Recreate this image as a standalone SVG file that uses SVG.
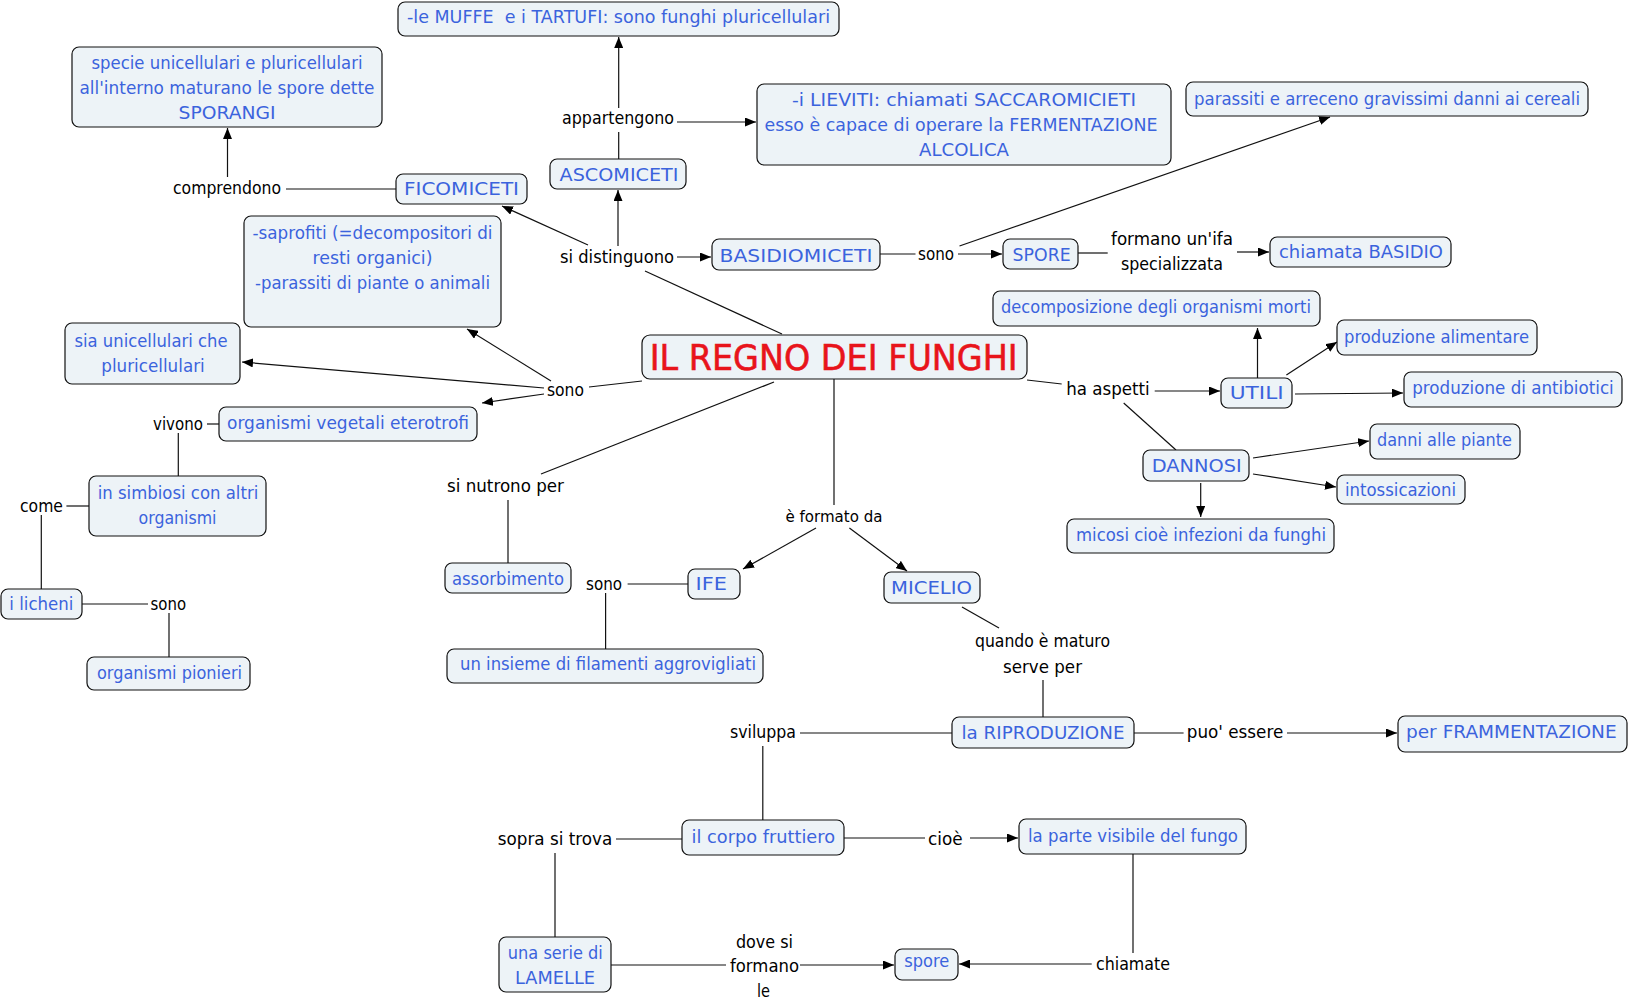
<svg xmlns="http://www.w3.org/2000/svg" width="1630" height="1000" viewBox="0 0 1630 1000">
<style>
.bg{fill:#ffffff}
.box{fill:#EDF3F7;stroke:#111;stroke-width:1.2}
.t{font-family:"DejaVu Sans","Liberation Sans",sans-serif;font-size:17px;fill:#3B63DD;text-anchor:middle}
.l{font-family:"DejaVu Sans","Liberation Sans",sans-serif;font-size:17px;fill:#000;text-anchor:middle}
.title{font-family:"DejaVu Sans","Liberation Sans",sans-serif;font-size:35px;fill:#E8141B;stroke:#E8141B;stroke-width:0.6;text-anchor:middle}
.c line{stroke:#111;stroke-width:1.2;fill:none}
.a{marker-end:url(#arr)}
</style>
<defs>
<marker id="arr" markerUnits="userSpaceOnUse" markerWidth="11" markerHeight="9" refX="11" refY="4.5" orient="auto">
<path d="M0,0 L11,4.5 L0,9 z" fill="#000"/>
</marker>
</defs>
<rect class="bg" x="0" y="0" width="1630" height="1000"/>
<g id="connectors" class="c">
<line x1="227.5" y1="177" x2="227.5" y2="128" class="a"/>
<line x1="286" y1="189" x2="396" y2="189"/>
<line x1="618.7" y1="108" x2="618.7" y2="37" class="a"/>
<line x1="677" y1="122" x2="756" y2="122" class="a"/>
<line x1="618.7" y1="159" x2="618.7" y2="132"/>
<line x1="618" y1="246" x2="618" y2="190" class="a"/>
<line x1="588" y1="245" x2="502" y2="206" class="a"/>
<line x1="677" y1="257" x2="711" y2="257" class="a"/>
<line x1="645" y1="271" x2="782" y2="334"/>
<line x1="880" y1="254" x2="915.5" y2="254"/>
<line x1="958" y1="254" x2="1002" y2="254" class="a"/>
<line x1="959.5" y1="246" x2="1330" y2="117" class="a"/>
<line x1="1078" y1="253" x2="1107.7" y2="253"/>
<line x1="1237" y1="252" x2="1269" y2="252" class="a"/>
<line x1="642" y1="381" x2="589" y2="387"/>
<line x1="551" y1="381" x2="467" y2="329" class="a"/>
<line x1="544" y1="388" x2="242" y2="362" class="a"/>
<line x1="544" y1="394" x2="482" y2="403" class="a"/>
<line x1="207" y1="424" x2="219" y2="424"/>
<line x1="178.3" y1="433" x2="178.3" y2="476"/>
<line x1="66.4" y1="506" x2="89" y2="506"/>
<line x1="41.3" y1="515" x2="41.3" y2="589"/>
<line x1="82" y1="604" x2="148" y2="604"/>
<line x1="169" y1="613" x2="169" y2="657"/>
<line x1="774" y1="382" x2="541" y2="474"/>
<line x1="508" y1="500" x2="508" y2="563"/>
<line x1="627.6" y1="584" x2="688" y2="584"/>
<line x1="605.6" y1="593" x2="605.6" y2="649"/>
<line x1="816" y1="528" x2="743" y2="569" class="a"/>
<line x1="834" y1="379" x2="834" y2="505"/>
<line x1="849.4" y1="528" x2="907" y2="571" class="a"/>
<line x1="962" y1="607" x2="999" y2="628"/>
<line x1="1027" y1="380" x2="1061.7" y2="384"/>
<line x1="1154.7" y1="391" x2="1220" y2="391" class="a"/>
<line x1="1123.7" y1="403" x2="1176" y2="450"/>
<line x1="1257.5" y1="378" x2="1257.5" y2="328" class="a"/>
<line x1="1286.4" y1="375" x2="1337" y2="342" class="a"/>
<line x1="1295" y1="394" x2="1403" y2="393" class="a"/>
<line x1="1253" y1="458" x2="1369" y2="441" class="a"/>
<line x1="1253" y1="474" x2="1336" y2="487" class="a"/>
<line x1="1200.7" y1="483" x2="1200.7" y2="517" class="a"/>
<line x1="1043" y1="680" x2="1043" y2="717"/>
<line x1="800" y1="733" x2="952" y2="733"/>
<line x1="1134" y1="733" x2="1183.6" y2="733"/>
<line x1="1287" y1="733" x2="1397" y2="733" class="a"/>
<line x1="762.8" y1="746" x2="762.8" y2="820"/>
<line x1="616" y1="839" x2="682" y2="839"/>
<line x1="844" y1="838" x2="925" y2="838"/>
<line x1="970" y1="838" x2="1018" y2="838" class="a"/>
<line x1="555" y1="853" x2="555" y2="937"/>
<line x1="611" y1="965" x2="726" y2="965"/>
<line x1="800" y1="965" x2="894" y2="965" class="a"/>
<line x1="1133" y1="854" x2="1133" y2="953"/>
<line x1="1091.7" y1="964" x2="959" y2="964" class="a"/>
</g>
<g id="labels">
<text class="l" x="618" y="124" textLength="112" lengthAdjust="spacingAndGlyphs">appartengono</text>
<text class="l" x="227" y="194" textLength="108" lengthAdjust="spacingAndGlyphs">comprendono</text>
<text class="l" x="617" y="263" textLength="114" lengthAdjust="spacingAndGlyphs">si distinguono</text>
<text class="l" x="936" y="260" textLength="36" lengthAdjust="spacingAndGlyphs">sono</text>
<text class="l" x="1172" y="245" textLength="122" lengthAdjust="spacingAndGlyphs">formano un'ifa</text>
<text class="l" x="1172" y="270" textLength="102" lengthAdjust="spacingAndGlyphs">specializzata</text>
<text class="l" x="565.5" y="396" textLength="37" lengthAdjust="spacingAndGlyphs">sono</text>
<text class="l" x="178" y="430" textLength="50" lengthAdjust="spacingAndGlyphs">vivono</text>
<text class="l" x="41.5" y="512" textLength="43" lengthAdjust="spacingAndGlyphs">come</text>
<text class="l" x="168.3" y="610" textLength="35.5" lengthAdjust="spacingAndGlyphs">sono</text>
<text class="l" x="505.5" y="492" textLength="117" lengthAdjust="spacingAndGlyphs">si nutrono per</text>
<text class="l" x="604" y="590" textLength="36" lengthAdjust="spacingAndGlyphs">sono</text>
<text class="l" x="834" y="522" style="font-size:15px" textLength="97" lengthAdjust="spacingAndGlyphs">è formato da</text>
<text class="l" x="1108" y="395" textLength="83.5" lengthAdjust="spacingAndGlyphs">ha aspetti</text>
<text class="l" x="1042.5" y="647" textLength="135" lengthAdjust="spacingAndGlyphs">quando è maturo</text>
<text class="l" x="1042.5" y="673" textLength="79" lengthAdjust="spacingAndGlyphs">serve per</text>
<text class="l" x="763" y="738" textLength="66" lengthAdjust="spacingAndGlyphs">sviluppa</text>
<text class="l" x="1235" y="738" textLength="96.5" lengthAdjust="spacingAndGlyphs">puo' essere</text>
<text class="l" x="555" y="845" textLength="114.5" lengthAdjust="spacingAndGlyphs">sopra si trova</text>
<text class="l" x="945.3" y="845" textLength="34.6" lengthAdjust="spacingAndGlyphs">cioè</text>
<text class="l" x="764.4" y="948" textLength="57" lengthAdjust="spacingAndGlyphs">dove si</text>
<text class="l" x="764.5" y="972" textLength="69" lengthAdjust="spacingAndGlyphs">formano</text>
<text class="l" x="763.5" y="997" textLength="13" lengthAdjust="spacingAndGlyphs">le</text>
<text class="l" x="1133" y="970" textLength="74" lengthAdjust="spacingAndGlyphs">chiamate</text>
</g>
<g id="n-muffe"><rect class="box" x="398" y="2" width="441" height="34" rx="7"/><text class="t" x="618.5" y="23" style="white-space:pre" textLength="423" lengthAdjust="spacingAndGlyphs">-le MUFFE  e i TARTUFI: sono funghi pluricellulari</text></g>
<g id="n-sporangi"><rect class="box" x="72" y="47" width="310" height="80" rx="7"/><text class="t" x="227" y="69" textLength="271" lengthAdjust="spacingAndGlyphs">specie unicellulari e pluricellulari</text><text class="t" x="227" y="94" textLength="295" lengthAdjust="spacingAndGlyphs">all'interno maturano le spore dette</text><text class="t" x="227" y="119" textLength="97" lengthAdjust="spacingAndGlyphs">SPORANGI</text></g>
<g id="n-ficomiceti"><rect class="box" x="396" y="174" width="131" height="30" rx="7"/><text class="t" x="461.5" y="195" textLength="115" lengthAdjust="spacingAndGlyphs">FICOMICETI</text></g>
<g id="n-ascomiceti"><rect class="box" x="550" y="159" width="136" height="30" rx="7"/><text class="t" x="619" y="181" textLength="119" lengthAdjust="spacingAndGlyphs">ASCOMICETI</text></g>
<g id="n-saprofiti"><rect class="box" x="244" y="216" width="257" height="111" rx="7"/><text class="t" x="372.5" y="239" textLength="240" lengthAdjust="spacingAndGlyphs">-saprofiti (=decompositori di</text><text class="t" x="372.5" y="264" textLength="120" lengthAdjust="spacingAndGlyphs">resti organici)</text><text class="t" x="372.5" y="289" textLength="235" lengthAdjust="spacingAndGlyphs">-parassiti di piante o animali</text></g>
<g id="n-lieviti"><rect class="box" x="757" y="84" width="414" height="81" rx="7"/><text class="t" x="964" y="106" textLength="344" lengthAdjust="spacingAndGlyphs">-i LIEVITI: chiamati SACCAROMICIETI</text><text class="t" x="961" y="131" textLength="393" lengthAdjust="spacingAndGlyphs">esso è capace di operare la FERMENTAZIONE</text><text class="t" x="964" y="156" textLength="90" lengthAdjust="spacingAndGlyphs">ALCOLICA</text></g>
<g id="n-parassiti"><rect class="box" x="1186" y="82" width="402" height="34" rx="7"/><text class="t" x="1387" y="105" textLength="386" lengthAdjust="spacingAndGlyphs">parassiti e arreceno gravissimi danni ai cereali</text></g>
<g id="n-basidiomiceti"><rect class="box" x="712" y="239" width="168" height="31" rx="7"/><text class="t" x="796" y="262" textLength="153" lengthAdjust="spacingAndGlyphs">BASIDIOMICETI</text></g>
<g id="n-spore-b"><rect class="box" x="1003" y="239" width="75" height="30" rx="7"/><text class="t" x="1041.6" y="261" textLength="58" lengthAdjust="spacingAndGlyphs">SPORE</text></g>
<g id="n-basidio"><rect class="box" x="1270" y="237" width="181" height="30" rx="7"/><text class="t" x="1361" y="258" textLength="164" lengthAdjust="spacingAndGlyphs">chiamata BASIDIO</text></g>
<g id="n-decomposizione"><rect class="box" x="993" y="291" width="327" height="35" rx="7"/><text class="t" x="1156" y="313" textLength="310" lengthAdjust="spacingAndGlyphs">decomposizione degli organismi morti</text></g>
<g id="n-alimentare"><rect class="box" x="1337" y="320" width="200" height="35" rx="7"/><text class="t" x="1436.5" y="343" textLength="185" lengthAdjust="spacingAndGlyphs">produzione alimentare</text></g>
<g id="n-antibiotici"><rect class="box" x="1404" y="372" width="218" height="35" rx="7"/><text class="t" x="1513" y="394" textLength="201.5" lengthAdjust="spacingAndGlyphs">produzione di antibiotici</text></g>
<g id="n-utili"><rect class="box" x="1221" y="378" width="71" height="30" rx="7"/><text class="t" x="1256.7" y="399" textLength="54" lengthAdjust="spacingAndGlyphs">UTILI</text></g>
<g id="n-dannosi"><rect class="box" x="1143" y="450" width="106" height="31" rx="7"/><text class="t" x="1196.8" y="472" textLength="90" lengthAdjust="spacingAndGlyphs">DANNOSI</text></g>
<g id="n-danni"><rect class="box" x="1370" y="424" width="150" height="35" rx="7"/><text class="t" x="1444.5" y="446" textLength="135" lengthAdjust="spacingAndGlyphs">danni alle piante</text></g>
<g id="n-intossicazioni"><rect class="box" x="1337" y="475" width="128" height="29" rx="7"/><text class="t" x="1400.5" y="496" textLength="111" lengthAdjust="spacingAndGlyphs">intossicazioni</text></g>
<g id="n-micosi"><rect class="box" x="1067" y="519" width="267" height="34" rx="7"/><text class="t" x="1201" y="541" textLength="250" lengthAdjust="spacingAndGlyphs">micosi cioè infezioni da funghi</text></g>
<g id="n-micelio"><rect class="box" x="884" y="572" width="96" height="31" rx="7"/><text class="t" x="931.5" y="594" textLength="81" lengthAdjust="spacingAndGlyphs">MICELIO</text></g>
<g id="n-title"><rect class="box" x="642" y="335" width="385" height="44" rx="8"/><text class="title" x="833.7" y="370" textLength="368" lengthAdjust="spacingAndGlyphs">IL REGNO DEI FUNGHI</text></g>
<g id="n-sia"><rect class="box" x="65" y="323" width="175" height="61" rx="7"/><text class="t" x="151" y="347" textLength="153" lengthAdjust="spacingAndGlyphs">sia unicellulari che</text><text class="t" x="153" y="372" textLength="103.5" lengthAdjust="spacingAndGlyphs">pluricellulari</text></g>
<g id="n-vegetali"><rect class="box" x="219" y="407" width="258" height="34" rx="7"/><text class="t" x="348" y="429" textLength="242" lengthAdjust="spacingAndGlyphs">organismi vegetali eterotrofi</text></g>
<g id="n-simbiosi"><rect class="box" x="89" y="476" width="177" height="60" rx="7"/><text class="t" x="178" y="499" textLength="160.6" lengthAdjust="spacingAndGlyphs">in simbiosi con altri</text><text class="t" x="177.5" y="524" textLength="78" lengthAdjust="spacingAndGlyphs">organismi</text></g>
<g id="n-licheni"><rect class="box" x="1" y="589" width="81" height="30" rx="7"/><text class="t" x="41.3" y="610" textLength="64" lengthAdjust="spacingAndGlyphs">i licheni</text></g>
<g id="n-pionieri"><rect class="box" x="87" y="657" width="163" height="33" rx="7"/><text class="t" x="169.5" y="679" textLength="145" lengthAdjust="spacingAndGlyphs">organismi pionieri</text></g>
<g id="n-assorbimento"><rect class="box" x="445" y="563" width="126" height="30" rx="7"/><text class="t" x="508" y="585" textLength="112" lengthAdjust="spacingAndGlyphs">assorbimento</text></g>
<g id="n-ife"><rect class="box" x="688" y="569" width="52" height="30" rx="7"/><text class="t" x="711.3" y="590" textLength="31.4" lengthAdjust="spacingAndGlyphs">IFE</text></g>
<g id="n-insieme"><rect class="box" x="447" y="649" width="316" height="34" rx="7"/><text class="t" x="608" y="670" textLength="296" lengthAdjust="spacingAndGlyphs">un insieme di filamenti aggrovigliati</text></g>
<g id="n-riproduzione"><rect class="box" x="952" y="717" width="182" height="31" rx="7"/><text class="t" x="1043" y="739" textLength="163" lengthAdjust="spacingAndGlyphs">la RIPRODUZIONE</text></g>
<g id="n-frammentazione"><rect class="box" x="1398" y="716" width="229" height="36" rx="7"/><text class="t" x="1511.3" y="738" textLength="210.7" lengthAdjust="spacingAndGlyphs">per FRAMMENTAZIONE</text></g>
<g id="n-corpo"><rect class="box" x="682" y="820" width="162" height="35" rx="7"/><text class="t" x="763.3" y="843" textLength="143.5" lengthAdjust="spacingAndGlyphs">il corpo fruttiero</text></g>
<g id="n-visibile"><rect class="box" x="1019" y="819" width="227" height="35" rx="7"/><text class="t" x="1133" y="842" textLength="210" lengthAdjust="spacingAndGlyphs">la parte visibile del fungo</text></g>
<g id="n-lamelle"><rect class="box" x="499" y="937" width="112" height="55" rx="7"/><text class="t" x="555.3" y="959" textLength="95" lengthAdjust="spacingAndGlyphs">una serie di</text><text class="t" x="555" y="984" textLength="80" lengthAdjust="spacingAndGlyphs">LAMELLE</text></g>
<g id="n-spore"><rect class="box" x="895" y="949" width="63" height="31" rx="7"/><text class="t" x="926.7" y="967" textLength="45" lengthAdjust="spacingAndGlyphs">spore</text></g>
</svg>
